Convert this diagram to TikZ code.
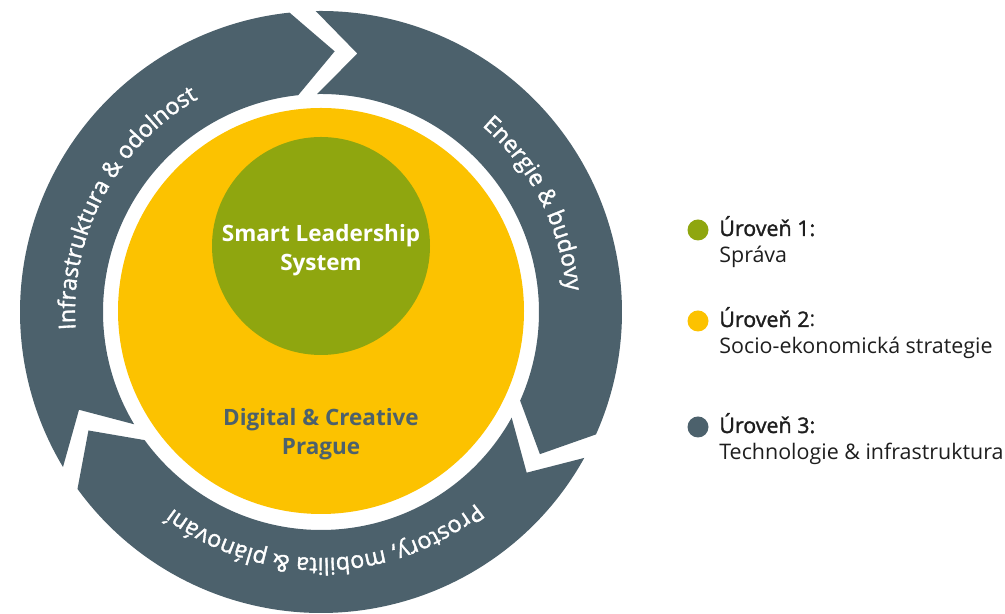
\documentclass[tikz,border=0pt]{standalone}
\usepackage{fontspec}
\setmainfont{Open Sans}
\newfontfamily\headfont[FakeBold=1.5]{Open Sans}
\usetikzlibrary{decorations.text}
\definecolor{slate}{HTML}{4C616C}
\definecolor{amber}{HTML}{FCC200}
\definecolor{olive}{HTML}{8FA60F}
\definecolor{ink}{HTML}{1E1E1E}
\newcommand{\ringout}{301}% outer radius of the ring
\newcommand{\ringin}{218}% inner radius of the ring
\newcommand{\ringtip}{261}% radius of the arrow tips
\newcommand{\ringfont}{\headfont\fontsize{13.2}{15}\selectfont}
\tikzset{
  ring_seg/.style = {fill=slate},% one arrow of the ring
  ring_txt/.style = {decorate, decoration={text along path,
    text align=center, text color=white}},
  lvl_dot/.style = {circle, inner sep=0pt, minimum size=0.42cm},
  lvl_head/.style = {anchor=base west, inner sep=0pt, text=ink,
    font=\headfont\fontsize{12.2}{14}\selectfont},
  lvl_sub/.style = {anchor=base west, inner sep=0pt, text=ink,
    font=\fontsize{12.2}{14}\selectfont},
  core_txt/.style = {align=center, font=\bfseries\fontsize{12.8}{16.5}\selectfont}
}
\begin{document}
\begin{tikzpicture}[x=0.02cm,y=0.02cm]
  \useasboundingbox (0,0) rectangle (1005,614);
  \begin{scope}[shift={(321,302)}]
    % ring of three arrows, clockwise
    \foreach \a/\b in {211/96, 91/-24, -29/-144}
      \fill[ring_seg] (\a:\ringout) arc (\a:\b:\ringout) -- (\b-9:\ringtip)
        -- (\b:\ringin) arc (\b:\a:\ringin) -- (\a-9:\ringtip) -- cycle;
    \path[ring_txt, decoration={text={|\ringfont|Infrastruktura {\&} odolnost}}]
      (200:246) arc (200:104:246);
    \path[ring_txt, decoration={text={|\ringfont|Energie {\&} budovy}}]
      (60:246) arc (60:-6:246);
    \path[ring_txt, decoration={text={|\ringfont|Prostory, mobilita {\&} plánování}}]
      (-40:246) arc (-40:-138:246);
    \fill[amber] (0,1) circle (203);% level 2
    \fill[olive] (0,66) circle (109);% level 1
  \end{scope}
  \node[core_txt, text=white] (lead) at (321,364) {Smart Leadership\\System};
  \node[core_txt, text=slate] (prague) at (321,180) {Digital \& Creative\\Prague};

  % legend
  \foreach \n/\col/\dy/\head/\sub in {1/olive/384/{Úroveň 1:}/{Správa},
      2/amber/293/{Úroveň 2{\rmfamily :}}/{Socio-ekonomická strategie},
      3/slate/187/{Úroveň 3:}/{Technologie \& infrastruktura}} {
    \node[lvl_dot, fill=\col] (dot\n) at (698,\dy) {};
    \node[lvl_head] (head\n) at (719,\dy-6) {\head};
    \node[lvl_sub] (sub\n) at (719,\dy-33) {\sub};
  }
\end{tikzpicture}
\end{document}
